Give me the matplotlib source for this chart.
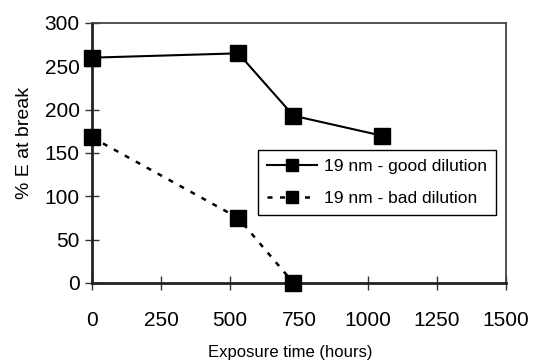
import numpy as np
import matplotlib.pyplot as plt

# datos
horas_buena = [0, 530, 730, 1050]
elong_buena = [260, 265, 193, 170]
horas_mala = [0, 530, 730]
elong_mala = [168, 75, 0]
etiquetas = ["19 nm - good dilution", "19 nm - bad dilution"]
xticks = [0, 250, 500, 750, 1000, 1250, 1500]
yticks = [0, 50, 100, 150, 200, 250, 300]

plt.rcParams['font.family'] = ['Liberation Sans', 'DejaVu Sans']

fig = plt.figure(figsize=(5.34, 3.64), dpi=100)
ax = fig.add_axes([92/534, 1-283/364, 414/534, 260/364])

ax.plot(horas_buena, elong_buena, color="black", lw=1.5, marker="s",
        markersize=11.5, label=etiquetas[0], clip_on=False, zorder=3)
ax.plot(horas_mala, elong_mala, color="black", lw=1.8, ls=(0, (2, 3)),
        marker="s", markersize=11.5, label=etiquetas[1], clip_on=False, zorder=3)

ax.set_xlim(0, 1500)
ax.set_ylim(0, 300)
ax.set_xticks(xticks)
ax.set_yticks(yticks)
ax.tick_params(direction="inout", length=10, width=1, labelsize=15, color="#333333")
ax.tick_params(axis="x", pad=15)
ax.tick_params(axis="y", pad=4)

for s in ["left", "bottom"]:
    ax.spines[s].set_linewidth(2)
    ax.spines[s].set_color("#222222")
for s in ["top", "right"]:
    ax.spines[s].set_linewidth(1.3)
    ax.spines[s].set_color("#444444")

ax.set_ylabel("% E at break", fontsize=14)
ax.yaxis.set_label_coords(-0.1425, 0.54)
ax.set_xlabel("Exposure time (hours)", fontsize=12)
ax.xaxis.set_label_coords(0.48, -0.238)

leg = ax.legend(loc="upper left", bbox_to_anchor=(258/534, 1-150/364),
                bbox_transform=fig.transFigure, borderaxespad=0, fontsize=12.5,
                frameon=True, fancybox=False, edgecolor="black", framealpha=1,
                handlelength=2.9, handletextpad=0.4, labelspacing=1.0,
                borderpad=0.5, markerscale=0.75)
leg.get_frame().set_linewidth(1)

fig.savefig("out.png", dpi=100)
